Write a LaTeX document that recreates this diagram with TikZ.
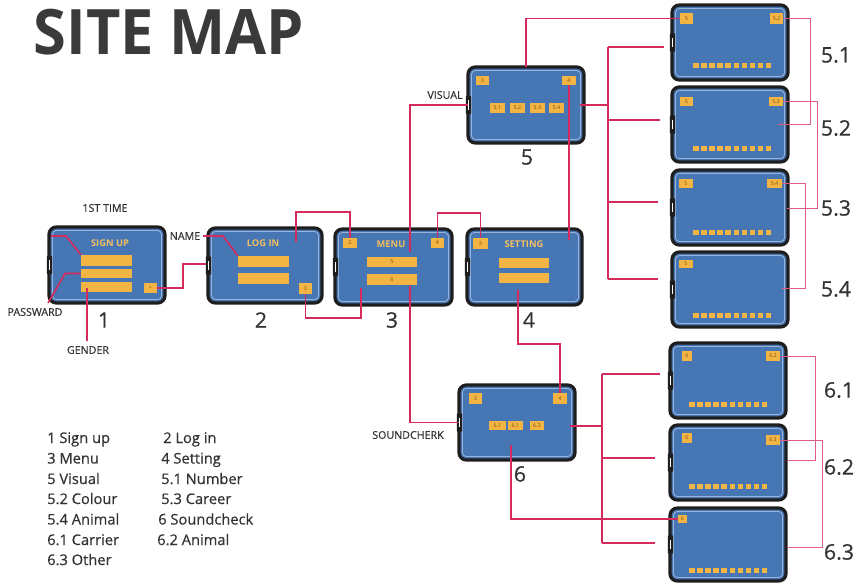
\documentclass[tikz,border=0pt]{standalone}
\usepackage{fontspec}
\setmainfont{Open Sans}
\newfontfamily\medfont{Open Sans}[FakeBold=0.5]
\usetikzlibrary{calc}
\definecolor{screen}{HTML}{4676B4}
\definecolor{edge}{HTML}{1E1E1E}
\definecolor{boxor}{HTML}{F2B544}
\definecolor{boxtxt}{HTML}{7A4E16}
\definecolor{linkred}{HTML}{D42A5C}
\definecolor{linkpink}{HTML}{DE5C80}
\definecolor{txt}{HTML}{333333}
\definecolor{titletxt}{HTML}{3A3A3A}
\newcommand\phn[5]{%
 \pgfmathsetmacro\myCX{(#2+#4)/2}\pgfmathsetmacro\myCY{(#3+#5)/2}%
 \pgfmathsetmacro\myW{(#4-#2)*0.75}\pgfmathsetmacro\myH{(#5-#3)*0.75}%
 \node[phone, minimum width=\myW pt, minimum height=\myH pt] (#1) at (\myCX,\myCY) {};%
 \draw[white, opacity=.45, line width=.6pt, rounded corners=3pt] ([shift={(2.6pt,-2.6pt)}]#1.north west) rectangle ([shift={(-2.6pt,2.6pt)}]#1.south east);%
 \fill[edge, rounded corners=0.8pt] ([shift={(-1.6pt,-7pt)}]#1.west) rectangle ([shift={(2.4pt,7pt)}]#1.west);%
 \draw[white, line width=.5pt] ([shift={(0.5pt,-3.5pt)}]#1.west) -- ([shift={(0.5pt,3.5pt)}]#1.west);%
}
\newcommand\obx[6]{%
 \pgfmathsetmacro\myCX{(#2+#4)/2}\pgfmathsetmacro\myCY{(#3+#5)/2}%
 \pgfmathsetmacro\myW{(#4-#2)*0.75}\pgfmathsetmacro\myH{(#5-#3)*0.75}%
 \node[obox, minimum width=\myW pt, minimum height=\myH pt] (#1) at (\myCX,\myCY) {#6};%
}
\newcommand\dotrow[2]{\foreach \i in {0,...,9}{\fill[boxor] ({#1+\i*8.1},#2) rectangle ++(5.5,4.5);}}
\begin{document}
\begin{tikzpicture}[x=0.75pt,y=-0.75pt,
 phone/.style={draw=edge, line width=2.4pt, fill=screen, rounded corners=5.5pt, inner sep=0pt, outer sep=0pt},
 obox/.style={fill=boxor, inner sep=0pt, font=\fontsize{4}{4}\selectfont, text=boxtxt},
 link/.style={linkred, line width=1.2pt},
 thinlink/.style={linkpink, line width=0.75pt},
 lab/.style={font=\medfont\fontsize{8}{8}\selectfont, text=txt, inner sep=0pt},
 bignum/.style={font=\medfont\fontsize{16}{16}\selectfont, text=txt, inner sep=0pt},
 legtxt/.style={font=\medfont\fontsize{11}{11}\selectfont, text=txt, anchor=base west, inner sep=0pt},
 scrtitle/.style={font=\fontsize{7}{7}\selectfont\bfseries, text=boxor!85!white, inner sep=0pt}]
\useasboundingbox (0,0) rectangle (860,583);
\fill[white] (0,0) rectangle (860,583);

% title
\node[font=\fontsize{47}{47}\selectfont\bfseries, text=titletxt, inner sep=0pt] (title) at (169,32.5) {\scalebox{0.95}[1]{SITE MAP}};

% phones
\phn{p1}{49}{227}{165}{303}
\phn{p2}{208}{228}{322}{303}
\phn{p3}{335}{229}{452}{305}
\phn{p4}{467}{229}{582}{305}
\phn{p5}{468}{67}{584}{143}
\phn{p6}{459}{385}{575}{460}
\phn{p51}{672}{5}{788}{80}
\phn{p52}{672}{87}{788}{162}
\phn{p53}{672}{170}{788}{245}
\phn{p54}{672}{252}{788}{327}
\phn{p61}{670}{343}{786}{418}
\phn{p62}{670}{425}{786}{500}
\phn{p63}{670}{508}{786}{581}

% screen titles
\node[scrtitle] (t1) at (110,243) {SIGN UP};
\node[scrtitle] (t2) at (263,243) {LOG IN};
\node[scrtitle] (t3) at (391,244) {MENU};
\node[scrtitle] (t4) at (524,244) {SETTING};

% boxes
\obx{b1a}{81}{255}{132}{266}{}
\obx{b1b}{81}{269}{132}{278}{}
\obx{b1c}{81}{282}{132}{292}{}
\obx{b1go}{144}{283}{157}{293}{>}
\obx{b2a}{238}{256}{289}{267}{}
\obx{b2b}{238}{273}{289}{284}{}
\obx{b2go}{299}{283}{312}{294}{3}
\obx{b3two}{343}{238}{357}{248}{2}
\obx{b3four}{431}{238}{444}{248}{4}
\obx{b3a}{367}{257}{417}{267}{5}
\obx{b3b}{367}{274}{417}{285}{6}
\obx{b4three}{473}{238}{488}{249}{3}
\obx{b4a}{499}{258}{549}{268}{}
\obx{b4b}{499}{273}{549}{283}{}
\obx{b5three}{476}{76}{489}{85}{3}
\obx{b5four}{562}{76}{576}{85}{4}
\obx{b51}{490}{103}{505}{113}{5.1}
\obx{b52}{510}{103}{525}{113}{5.2}
\obx{b53}{530}{103}{545}{113}{5.3}
\obx{b54}{549}{103}{564}{113}{5.4}
\obx{b6three}{469}{393}{482}{404}{3}
\obx{b6four}{553}{393}{567}{404}{4}
\obx{b61}{489}{421}{506}{430}{6.1}
\obx{b62}{508}{421}{523}{430}{6.1}
\obx{b63}{530}{421}{544}{430}{6.3}
\obx{b51five}{680}{13}{693}{24}{5}
\obx{b51next}{770}{13}{783}{24}{5.2}
\obx{b52five}{680}{97}{693}{106}{5}
\obx{b52next}{769}{97}{783}{106}{5.3}
\obx{b53five}{679}{179}{693}{188}{5}
\obx{b53next}{767}{179}{782}{188}{5.4}
\obx{b54five}{679}{260}{693}{268}{5}
\obx{b61six}{682}{351}{692}{361}{6}
\obx{b61next}{766}{351}{780}{361}{6.2}
\obx{b62six}{682}{433}{692}{443}{6}
\obx{b62next}{766}{435}{780}{445}{6.3}
\obx{b63six}{678}{515}{687}{523}{6}
\dotrow{693}{63}
\dotrow{693}{146}
\dotrow{693}{230}
\dotrow{693}{313}
\dotrow{689}{402}
\dotrow{689}{484}
\dotrow{689}{568}

% labels
\node[lab] (first) at (105,208) {1ST TIME};
\node[lab] (name) at (185,236) {NAME};
\node[lab] (pass) at (35,312) {PASSWARD};
\node[lab] (gend) at (88,350) {GENDER};
\node[lab] (vis) at (445,95) {VISUAL};
\node[lab] (snd) at (408,435) {SOUNDCHERK};

% big numbers
\node[bignum] (n1) at (104,320) {1};
\node[bignum] (n2) at (261,320) {2};
\node[bignum] (n3) at (392,320) {3};
\node[bignum] (n4) at (529,320) {4};
\node[bignum] (n5) at (527,157) {5};
\node[bignum] (n6) at (520,474) {6};
\node[bignum] (n51) at (836,55) {5.1};
\node[bignum] (n52) at (836,128) {5.2};
\node[bignum] (n53) at (836,208) {5.3};
\node[bignum] (n54) at (836,289) {5.4};
\node[bignum] (n61) at (839,390) {6.1};
\node[bignum] (n62) at (839,467) {6.2};
\node[bignum] (n63) at (839,552) {6.3};

% legend
\node[legtxt] (l1) at (47,443) {1 Sign up};
\node[legtxt] (l2) at (163,443) {2 Log in};
\node[legtxt] (l3) at (47,463.5) {3 Menu};
\node[legtxt] (l4) at (161,463.5) {4 Setting};
\node[legtxt] (l5) at (47,484) {5 Visual};
\node[legtxt] (l51) at (161,484) {5.1 Number};
\node[legtxt] (l52) at (47,504) {5.2 Colour};
\node[legtxt] (l53) at (161,504) {5.3 Career};
\node[legtxt] (l54) at (47,524.5) {5.4 Animal};
\node[legtxt] (l6) at (158,524.5) {6 Soundcheck};
\node[legtxt] (l61) at (47,545) {6.1 Carrier};
\node[legtxt] (l62) at (157,545) {6.2 Animal};
\node[legtxt] (l63) at (47,565) {6.3 Other};

% connector coordinates
\coordinate (c1s) at (51,236);
\coordinate (c1m) at (66,236);
\coordinate (pw1) at (48,303);
\coordinate (pw2) at (65,273.5);
\coordinate (gd1) at (87,341);
\coordinate (gd2) at (87,288);
\coordinate (p2in) at (206,264);
\coordinate (nm2) at (223,236);
\coordinate (c6) at (296,242);
\coordinate (c7) at (361,288);
\coordinate (c9) at (410,252);
\coordinate (c10) at (410,286);
\coordinate (c11) at (518,290);
\coordinate (c12) at (569,240);
\coordinate (s5) at (580,105);
\coordinate (j5) at (608,105);
\coordinate (e51) at (664,47);
\coordinate (e52) at (660,120);
\coordinate (e53) at (658,202);
\coordinate (e54) at (658,279);
\coordinate (s6) at (570,426);
\coordinate (j6) at (602,426);
\coordinate (e61) at (660,374);
\coordinate (e62) at (655,458);
\coordinate (e63) at (655,543);
\coordinate (c19) at (511,445);
\coordinate (r52) at (778,124);
\coordinate (r53) at (787,208);
\coordinate (r54) at (782,288);
\coordinate (r62) at (787,460);
\coordinate (r63) at (787,547);

% connectors
\draw[link] (c1s) -- (c1m) -- (b1a.north west);
\draw[link] (pw1) -- (pw2) -- (b1b.west);
\draw[link] (gd1) -- (gd2);
\draw[link] (b1go.east) -- ++(26,0) |- (p2in);
\draw[link] ([xshift=2pt]name.east) -- (nm2) -- (b2a.north west);
\draw[link] (c6) -- ++(0,-30) -| (b3two.north);
\draw[link] (b2go.south) -- ++(0,24) -| (c7);
\draw[link] (b3four.north) -- ++(0,-25) -| (b4three.north);
\draw[link] (c9) |- (p5.west);
\draw[link] (c10) |- (p6.west);
\draw[link] (c11) -- ++(0,54) -| (b6four.north);
\draw[link] (c12) -- (c12 |- b5four.south);
\draw[link] (p5.north) |- (b51five.west);
\draw[link] (s5) -- (j5);
\draw[link] (j5 |- e51) -- (j5 |- e54);
\foreach \e in {e51,e52,e53,e54}{\draw[link] (j5 |- \e) -- (\e);}
\draw[link] (s6) -- (j6);
\draw[link] (j6 |- e61) -- (j6 |- e63);
\foreach \e in {e61,e62,e63}{\draw[link] (j6 |- \e) -- (\e);}
\draw[link] (c19) |- (b63six.west);
\draw[thinlink] (b51next.east) -- ++(27,0) |- (r52);
\draw[thinlink] (b52next.east) -- ++(34,0) |- (r53);
\draw[thinlink] (b53next.east) -- ++(23,0) |- (r54);
\draw[thinlink] (b61next.east) -- ++(35,0) |- (r62);
\draw[thinlink] (b62next.east) -- ++(42,0) |- (r63);
\end{tikzpicture}
\end{document}
